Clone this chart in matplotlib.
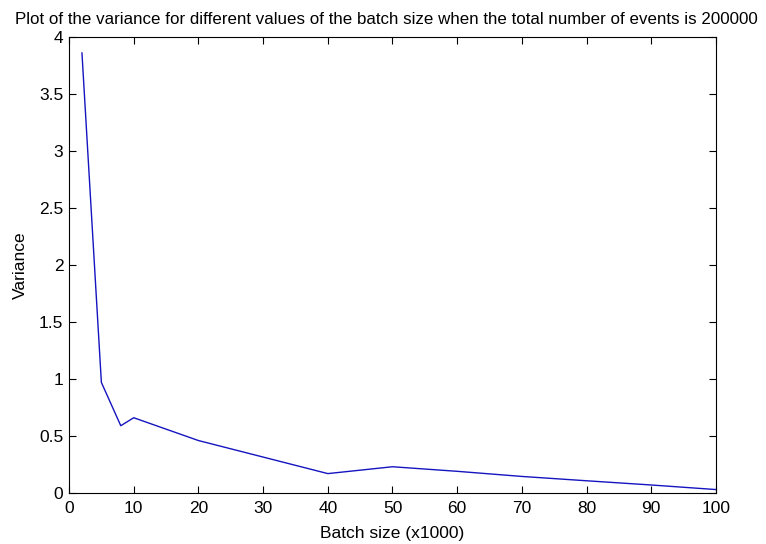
import numpy as np
import matplotlib
matplotlib.use('Agg')
import matplotlib.pyplot as plt

plt.rcParams['font.family'] = ['Liberation Sans', 'DejaVu Sans']

batch_size = [2, 5, 8, 10, 20, 40, 50, 60, 70, 80, 90, 100]
variance = [3.86, 0.97, 0.59, 0.66, 0.46, 0.17, 0.23, 0.19, 0.145, 0.107, 0.07, 0.03]

fig = plt.figure(figsize=(7.66, 5.44), dpi=100)
ax = fig.add_axes([0.0901, 0.0938, 0.8446, 0.8382])
ax.plot(batch_size, variance, color='#1414c0', lw=1.0)

ax.set_xlim(0, 100)
ax.set_ylim(0, 4)
ax.set_xticks(np.arange(0, 101, 10))
ax.set_yticks(np.arange(0, 4.01, 0.5))
ax.set_yticklabels(['0', '0.5', '1', '1.5', '2', '2.5', '3', '3.5', '4'])
ax.tick_params(direction='in', top=True, right=True, length=5, width=0.8,
               labelsize=12.5)
ax.tick_params(axis='x', pad=6)
ax.tick_params(axis='y', pad=4)
for s in ax.spines.values():
    s.set_linewidth(0.8)

ax.set_xlabel('Batch size (x1000)', fontsize=12.5, labelpad=7)
ax.set_ylabel('Variance', fontsize=12.5, labelpad=8)
fig.text(0.504, 0.955,
         'Plot of the variance for different values of the batch size when the total number of events is 200000',
         ha='center', va='baseline', fontsize=12.2)

fig.savefig('out.png', dpi=100)
